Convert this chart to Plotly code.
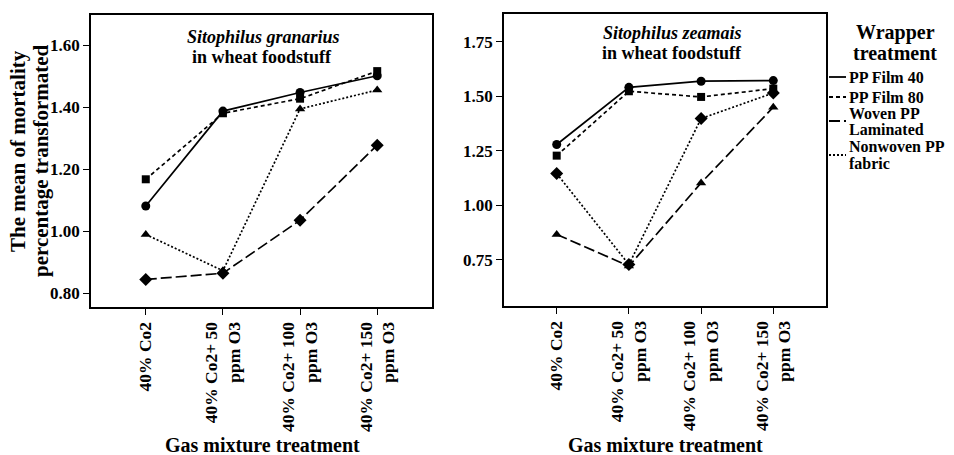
import plotly.graph_objects as go

categories = ["40% Co2", "40% Co2+ 50<br>ppm O3", "40% Co2+ 100<br>ppm O3", "40% Co2+ 150<br>ppm O3"]
series_names = ["PP Film 40", "PP Film 80", "Woven PP Laminated", "Nonwoven PP fabric"]
legend_labels = ["PP Film 40", "PP Film 80", "Woven PP<br>Laminated", "Nonwoven PP<br>fabric"]
y_title_lines = ["The mean of mortality", "percentage transformated"]

granarius_pp40 = [1.081, 1.387, 1.447, 1.501]
granarius_pp80 = [1.167, 1.380, 1.427, 1.516]
granarius_woven = [0.844, 0.864, 1.035, 1.277]
granarius_nonwoven = [0.989, 0.872, 1.394, 1.455]

zeamais_pp40 = [1.279, 1.541, 1.569, 1.572]
zeamais_pp80 = [1.228, 1.523, 1.497, 1.535]
zeamais_woven = [0.867, 0.722, 1.103, 1.450]
zeamais_nonwoven = [1.146, 0.729, 1.398, 1.515]

granarius_ticks = [0.80, 1.00, 1.20, 1.40, 1.60]
zeamais_ticks = [0.75, 1.00, 1.25, 1.50, 1.75]

W, H = 954, 455
FONT = "Liberation Serif, Times New Roman, DejaVu Serif, serif"
dashes = ["solid", "4px,3px", "11px,4px", "2px,2px"]
left_symbols = ["circle", "square", "diamond", "triangle-up"]
right_symbols = ["circle", "square", "triangle-up", "diamond"]
marker_sizes = {"circle": 9, "square": 8, "diamond": 10, "triangle-up": 9}

fig = go.Figure()

left_series = [granarius_pp40, granarius_pp80, granarius_woven, granarius_nonwoven]
right_series = [zeamais_pp40, zeamais_pp80, zeamais_woven, zeamais_nonwoven]

for name, vals, dash, sym in zip(series_names, left_series, dashes, left_symbols):
    fig.add_trace(go.Scatter(x=categories, y=vals, mode="lines+markers", name=name,
                             line=dict(color="black", width=1.7, dash=dash),
                             marker=dict(symbol=sym, size=marker_sizes[sym], color="black"),
                             xaxis="x", yaxis="y", showlegend=False))
for name, vals, dash, sym in zip(series_names, right_series, dashes, right_symbols):
    fig.add_trace(go.Scatter(x=categories, y=vals, mode="lines+markers", name=name,
                             line=dict(color="black", width=1.7, dash=dash),
                             marker=dict(symbol=sym, size=marker_sizes[sym], color="black"),
                             xaxis="x2", yaxis="y2", showlegend=False))

def px_x(p):
    return p / W

def px_y(p):
    return 1 - p / H

ytickfont = dict(family=FONT, size=17, color="black", weight=700)
xtickfont = dict(family=FONT, size=17.5, color="black", weight=700)
axis_common = dict(showline=True, linecolor="black", linewidth=1.8, mirror=True,
                   ticks="outside", ticklen=6, tickcolor="black", tickwidth=1.2,
                   showgrid=False, zeroline=False, automargin=False)

fig.update_layout(
    width=W, height=H,
    margin=dict(l=0, r=0, t=0, b=0),
    paper_bgcolor="white", plot_bgcolor="white",
    showlegend=False,
    font=dict(family=FONT, color="black"),
    xaxis=dict(domain=[px_x(91), px_x(432)], range=[-0.71, 3.71], type="category",
               tickangle=-90, anchor="y", tickfont=xtickfont, **axis_common),
    yaxis=dict(domain=[px_y(307), px_y(15)], range=[0.755, 1.697],
               tickvals=granarius_ticks, tickformat=".2f", anchor="x", tickfont=ytickfont, **axis_common),
    xaxis2=dict(domain=[px_x(504), px_x(826)], range=[-0.73, 3.73], type="category",
                tickangle=-90, anchor="y2", tickfont=xtickfont, **axis_common),
    yaxis2=dict(domain=[px_y(306), px_y(14)], range=[0.539, 1.877],
                tickvals=zeamais_ticks, tickformat=".2f", anchor="x2", tickfont=ytickfont, **axis_common),
)

titlefont = dict(family=FONT, size=18, color="black", weight=700)
ann = []
ann.append(dict(text="<i>Sitophilus granarius</i>", x=px_x(263), y=px_y(37)))
ann.append(dict(text="in wheat foodstuff", x=px_x(262), y=px_y(57)))
ann.append(dict(text="<i>Sitophilus zeamais</i>", x=px_x(672), y=px_y(33)))
ann.append(dict(text="in wheat foodstuff", x=px_x(672), y=px_y(53)))
for a in ann:
    a.update(xref="paper", yref="paper", showarrow=False, xanchor="center", yanchor="middle", font=titlefont)
    fig.add_annotation(**a)

axisfont = dict(family=FONT, size=20, color="black", weight=700)
fig.add_annotation(text="Gas mixture treatment", x=px_x(262), y=px_y(445), xref="paper", yref="paper",
                   showarrow=False, xanchor="center", yanchor="middle", font=axisfont)
fig.add_annotation(text="Gas mixture treatment", x=px_x(665), y=px_y(445), xref="paper", yref="paper",
                   showarrow=False, xanchor="center", yanchor="middle", font=axisfont)
for line, cx, cy in zip(y_title_lines, [18, 41], [151, 161]):
    fig.add_annotation(text=line, x=px_x(cx), y=px_y(cy), xref="paper", yref="paper", showarrow=False,
                       textangle=-90, xanchor="center", yanchor="middle",
                       font=dict(family=FONT, size=21, color="black", weight=700))

# legend (manual)
legfont_title = dict(family=FONT, size=20, color="black", weight=700)
fig.add_annotation(text="Wrapper", x=px_x(895), y=px_y(33), xref="paper", yref="paper", showarrow=False,
                   xanchor="center", yanchor="middle", font=legfont_title)
fig.add_annotation(text="treatment", x=px_x(895), y=px_y(53), xref="paper", yref="paper", showarrow=False,
                   xanchor="center", yanchor="middle", font=legfont_title)
legfont = dict(family=FONT, size=16, color="black", weight=700)
text_rows = [[77], [97], [113, 129], [147, 163]]
sample_rows = [77, 97, 121, 155]
for label, rows, sy, dash in zip(legend_labels, text_rows, sample_rows, dashes):
    for line, ry in zip(label.split("<br>"), rows):
        fig.add_annotation(text=line, x=px_x(847), y=px_y(ry), xref="paper", yref="paper", showarrow=False,
                           xanchor="left", yanchor="middle", font=legfont)
    fig.add_shape(type="line", xref="paper", yref="paper", x0=px_x(829), x1=px_x(846),
                  y0=px_y(sy), y1=px_y(sy), line=dict(color="black", width=1.8, dash=dash))

fig.write_html("out.html")
